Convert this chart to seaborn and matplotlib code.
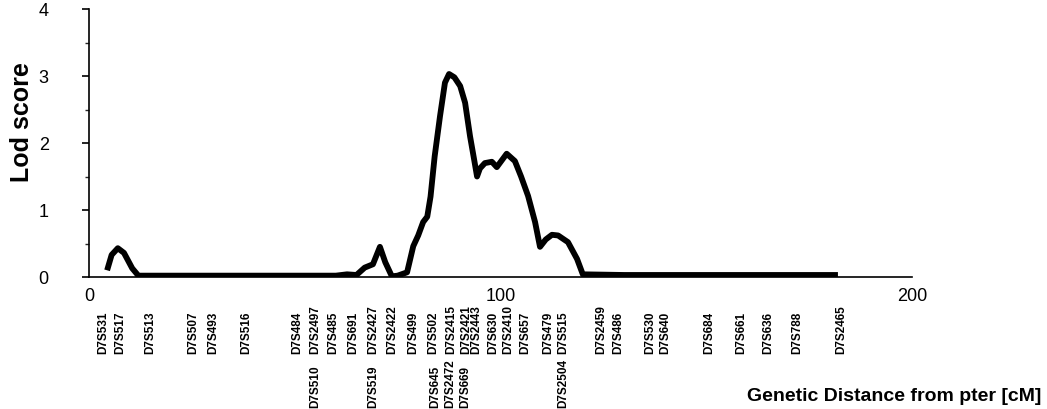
import matplotlib
matplotlib.use("Agg")
import matplotlib.pyplot as plt
import seaborn as sns
import pandas as pd
from matplotlib.ticker import MultipleLocator

# ---- data ----
cm = [4.4, 5.5, 7.0, 8.5, 10.5, 12.0, 15.0, 30.0, 50.0, 60.0, 62.7, 65.0,
      67.0, 69.0, 70.7, 72.0, 73.6, 75.0, 77.3, 78.8, 80.0, 81.2, 82.2,
      83.0, 84.0, 85.3, 86.5, 87.5, 88.8, 90.2, 91.4, 92.6, 93.6, 94.3,
      95.0, 96.2, 97.9, 99.1, 101.5, 103.5, 105.0, 106.7, 108.4, 109.6,
      111.0, 112.5, 114.0, 116.4, 118.6, 120.0, 130.0, 150.0, 170.0, 182.0]
lod = [0.10, 0.33, 0.43, 0.36, 0.13, 0.02, 0.02, 0.02, 0.02, 0.02, 0.04, 0.03,
       0.14, 0.19, 0.45, 0.22, 0.01, 0.02, 0.07, 0.46, 0.62, 0.82, 0.90,
       1.20, 1.80, 2.40, 2.90, 3.03, 2.98, 2.85, 2.60, 2.10, 1.75, 1.50,
       1.62, 1.70, 1.72, 1.64, 1.84, 1.73, 1.50, 1.21, 0.82, 0.45,
       0.56, 0.63, 0.62, 0.52, 0.27, 0.04, 0.03, 0.03, 0.03, 0.03]

markers_row1 = ["D7S531", "D7S517", "D7S513", "D7S507", "D7S493", "D7S516",
                "D7S484", "D7S2497", "D7S485", "D7S691", "D7S2427", "D7S2422",
                "D7S499", "D7S502", "D7S2415", "D7S2421\nD7S2443", "D7S630",
                "D7S2410", "D7S657", "D7S479", "D7S515", "D7S2459", "D7S486",
                "D7S530", "D7S640", "D7S684", "D7S661", "D7S636", "D7S788",
                "D7S2465"]
markers_row1_cm = [3.5, 7.5, 14.8, 25.3, 30.2, 38.3,
                   50.5, 54.9, 59.4, 64.2, 69.1, 73.8,
                   78.8, 83.7, 88.1, 92.8, 98.3,
                   101.9, 106.0, 111.6, 115.3, 124.6, 128.6,
                   136.3, 140.0, 150.7, 158.6, 165.1, 172.0,
                   182.9]
markers_row2 = ["D7S510", "D7S519", "D7S645", "D7S2472", "D7S669", "D7S2504"]
markers_row2_cm = [54.9, 69.1, 84.1, 87.7, 91.4, 115.3]

x_ticks = [0, 100, 200]
y_ticks = [0, 1, 2, 3, 4]

# ---- plot ----
sns.set_theme(style="ticks")
plt.rcParams["font.family"] = ["Liberation Sans", "DejaVu Sans"]

W, H = 1047, 410
fig = plt.figure(figsize=(W / 100, H / 100), dpi=100)
ax_l, ax_r, ax_t, ax_b = 89, 912, 10, 278
ax = fig.add_axes([ax_l / W, 1 - ax_b / H, (ax_r - ax_l) / W, (ax_b - ax_t) / H])

df = pd.DataFrame({"cM": cm, "LOD": lod})
sns.lineplot(data=df, x="cM", y="LOD", ax=ax, color="black", linewidth=4.2,
             solid_joinstyle="round", solid_capstyle="butt", sort=False)

ax.set_xlim(0, 200)
ax.set_ylim(0, 4)
ax.set_xticks(x_ticks)
ax.set_yticks(y_ticks)
ax.yaxis.set_minor_locator(MultipleLocator(0.5))
ax.set_xlabel("")
ax.set_ylabel("")
for s in ["top", "right"]:
    ax.spines[s].set_visible(False)
for s in ["left", "bottom"]:
    ax.spines[s].set_color("black")
    ax.spines[s].set_linewidth(1.2)
ax.tick_params(axis="y", which="major", direction="out", length=5, width=1.2,
               pad=24, labelsize=13, colors="black")
ax.tick_params(axis="y", which="minor", direction="out", length=3, width=1.0)
ax.tick_params(axis="x", which="major", length=0, pad=7, labelsize=13,
               colors="black")

# marker labels
h_ax = ax_b - ax_t
row1_y = (ax_b - 354) / h_ax
row2_y = (ax_b - 408) / h_ax
trans = ax.get_xaxis_transform()
for name, pos in zip(markers_row1, markers_row1_cm):
    ax.text(pos, row1_y, name, transform=trans, rotation=90, ha="center",
            va="bottom", fontsize=8.5, fontweight="bold", clip_on=False,
            linespacing=0.8, color="black")
for name, pos in zip(markers_row2, markers_row2_cm):
    ax.text(pos, row2_y, name, transform=trans, rotation=90, ha="center",
            va="bottom", fontsize=8.5, fontweight="bold", clip_on=False,
            color="black")

fig.text(22 / W, 1 - 122 / H, "Lod score", rotation=90, ha="center",
         va="center", fontsize=18, fontweight="bold", color="black")
fig.text(1041 / W, 1 - 397 / H, "Genetic Distance from pter [cM]", ha="right",
         va="center", fontsize=14, fontweight="bold", color="black")

fig.savefig("out.png", dpi=100)
